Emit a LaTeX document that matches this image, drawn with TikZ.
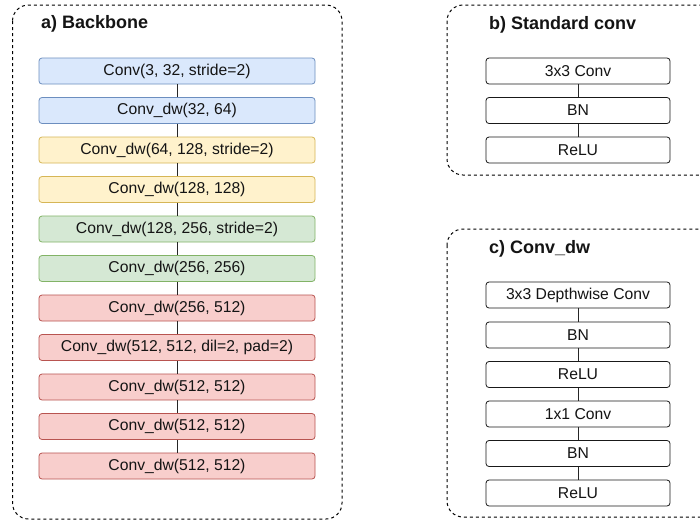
\documentclass[tikz,border=0pt]{standalone}
\usepackage{fontspec}
\setmainfont{Liberation Sans}
\definecolor{bfill}{HTML}{DAE8FC}\definecolor{bline}{HTML}{6C8EBF}
\definecolor{yfill}{HTML}{FFF2CC}\definecolor{yline}{HTML}{D6B656}
\definecolor{gfill}{HTML}{D5E8D4}\definecolor{gline}{HTML}{82B366}
\definecolor{rfill}{HTML}{F8CECC}\definecolor{rline}{HTML}{B85450}
\definecolor{txt}{HTML}{141414}
\begin{document}
\begin{tikzpicture}[x=1pt,y=-1pt,
  layer/.style={draw, rounded corners=3pt, line width=0.8pt, minimum height=26pt, inner sep=0pt, text=txt,
    font=\fontsize{15.7}{18}\selectfont},
  wide/.style={layer, minimum width=276pt},
  narrow/.style={layer, minimum width=184pt, fill=white, draw=black!90},
  blu/.style={wide, fill=bfill, draw=bline},
  yel/.style={wide, fill=yfill, draw=yline},
  grn/.style={wide, fill=gfill, draw=gline},
  red/.style={wide, fill=rfill, draw=rline},
  frame/.style={draw=black, dash pattern=on 3pt off 3pt, line width=1pt, rounded corners=16pt},
  title/.style={anchor=west, font=\bfseries\fontsize{18}{21}\selectfont, text=txt, inner sep=0pt},
  link/.style={draw=black!85, line width=0.9pt}]
\useasboundingbox (0,0) rectangle (700,520);
\clip (0,0) rectangle (700,520);
\fill[white] (0,0) rectangle (700,520);
% frames
\draw[frame] (12.5,5) rectangle (342,519);
\draw[frame] (447,5) rectangle (720,175);
\draw[frame] (447,229) rectangle (720,517);
\node[title] (ta) at (41,24) {a) Backbone};
\node[title] (tb) at (489,25) {b) Standard conv};
\node[title] (tc) at (489,249) {c) Conv\_dw};
% backbone
\node[blu] (a1) at (177,71) {Conv(3, 32, stride=2)};
\node[blu] (a2) at (177,110.5) {Conv\_dw(32, 64)};
\node[yel] (a3) at (177,150) {Conv\_dw(64, 128, stride=2)};
\node[yel] (a4) at (177,189.5) {Conv\_dw(128, 128)};
\node[grn] (a5) at (177,229) {Conv\_dw(128, 256, stride=2)};
\node[grn] (a6) at (177,268.5) {Conv\_dw(256, 256)};
\node[red] (a7) at (177,308) {Conv\_dw(256, 512)};
\node[red] (a8) at (177,347.5) {Conv\_dw(512, 512, dil=2, pad=2)};
\node[red] (a9) at (177,387) {Conv\_dw(512, 512)};
\node[red] (a10) at (177,426.5) {Conv\_dw(512, 512)};
\node[red] (a11) at (177,466) {Conv\_dw(512, 512)};
\foreach \i/\j in {1/2,2/3,3/4,4/5,5/6,6/7,7/8,8/9,9/10,10/11}
  \draw[link] (a\i.south) -- (a\j.north);
% standard conv
\node[narrow] (b1) at (578,71) {3x3 Conv};
\node[narrow] (b2) at (578,110.5) {BN};
\node[narrow] (b3) at (578,150) {ReLU};
\draw[link] (b1.south) -- (b2.north);
\draw[link] (b2.south) -- (b3.north);
% conv_dw
\node[narrow] (c1) at (578,295) {3x3 Depthwise Conv};
\node[narrow] (c2) at (578,335) {BN};
\node[narrow] (c3) at (578,374.5) {ReLU};
\node[narrow] (c4) at (578,414) {1x1 Conv};
\node[narrow] (c5) at (578,453.5) {BN};
\node[narrow] (c6) at (578,493) {ReLU};
\foreach \i/\j in {1/2,2/3,3/4,4/5,5/6}
  \draw[link] (c\i.south) -- (c\j.north);
\end{tikzpicture}
\end{document}
